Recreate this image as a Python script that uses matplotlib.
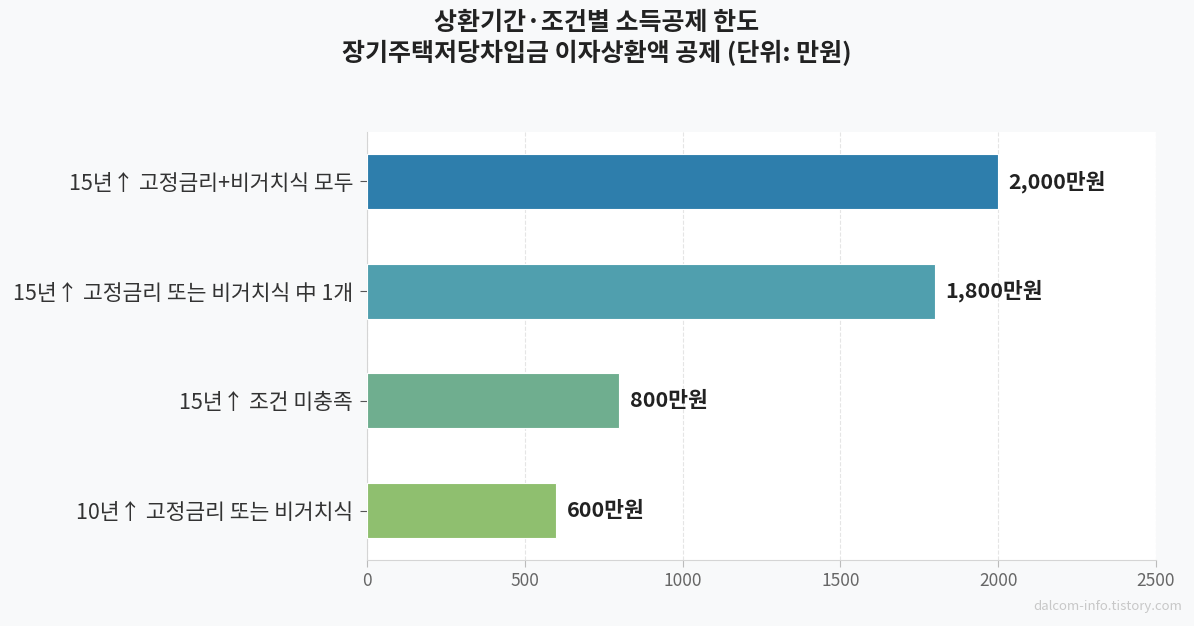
import matplotlib
matplotlib.use('Agg')
import matplotlib.pyplot as plt

plt.rcParams['font.family'] = ['Noto Sans CJK KR', 'DejaVu Sans']

categories = ['15년↑ 고정금리+비거치식 모두', '15년↑ 고정금리 또는 비거치식 中 1개',
              '15년↑ 조건 미충족', '10년↑ 고정금리 또는 비거치식']
values = [2000, 1800, 800, 600]
labels = ['2,000만원', '1,800만원', '800만원', '600만원']
colors = ['#2e7eac', '#509fae', '#6fae8f', '#8fbf6f']

fig = plt.figure(figsize=(11.94, 6.26), dpi=100, facecolor='#f8f9fa')
ax = fig.add_axes([367/1194, 1-560/626, (1156-367)/1194, (560-132)/626])
ax.set_facecolor('white')

y = list(range(len(categories)))
ax.barh(y, values, height=0.5, color=colors, edgecolor='white', linewidth=0.8, zorder=3)
for yi, v, lab in zip(y, values, labels):
    ax.text(v + 32, yi, lab, va='center', ha='left', fontsize=15.5, fontweight='bold', color='#222222')

ax.set_xlim(0, 2500)
ax.set_ylim(3.45, -0.45)
ax.set_yticks(y)
ax.set_yticklabels(categories, fontsize=15.5, color='#333333')
ax.set_xticks([0, 500, 1000, 1500, 2000, 2500])
ax.tick_params(axis='x', labelsize=12.5, colors='#666666', length=5, color='#bbbbbb')
ax.tick_params(axis='y', length=5, color='#555555', pad=5)
ax.grid(axis='x', linestyle='--', color='#e5e5e5', linewidth=0.8, zorder=0)
for s in ['top', 'right']:
    ax.spines[s].set_visible(False)
for s in ['left', 'bottom']:
    ax.spines[s].set_color('#d5d5d5')

fig.text(0.5, 0.982, '상환기간·조건별 소득공제 한도\n장기주택저당차입금 이자상환액 공제 (단위: 만원)',
         ha='center', va='top', fontsize=18, fontweight='bold', color='#222222', linespacing=1.2)
fig.text(0.99, 0.02, 'dalcom-info.tistory.com', ha='right', va='bottom', fontsize=9.5, color='#c8c8c8')

fig.savefig('out.png', dpi=100, facecolor=fig.get_facecolor())
